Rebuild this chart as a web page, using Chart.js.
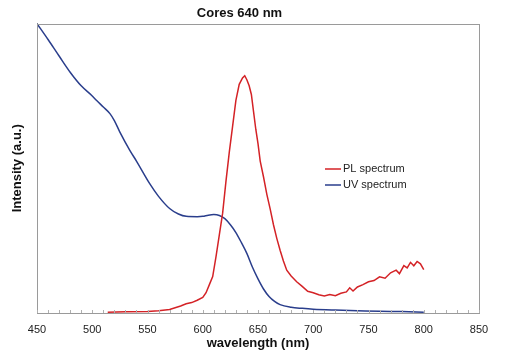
<!DOCTYPE html>
<html>
<head>
<meta charset="utf-8">
<script src="https://cdn.jsdelivr.net/npm/chart.js@4.4.1/dist/chart.umd.min.js"></script>
<style>
  html, body { margin: 0; padding: 0; background: #fff; }
  #wrap { width: 505px; height: 360px; }
</style>
</head>
<body>
<div id="wrap"><canvas id="grafico" width="505" height="360"></canvas></div>
<script>
// data (intensity in a.u., 0-100 scale)
var plWavelength = [514, 530, 550, 560, 570, 575, 580, 585, 590, 595, 600, 603, 606, 609, 612, 615, 618, 621, 624, 627, 630, 633, 636, 638, 640, 642, 644, 646, 648, 650, 652, 655, 658, 661, 664, 667, 670, 673, 676, 680, 685, 690, 695, 700, 705, 710, 715, 720, 725, 730, 733, 736, 740, 745, 750, 755, 760, 765, 770, 775, 778, 782, 785, 788, 791, 794, 797, 800];
var plIntensity = [0.3, 0.4, 0.5, 0.8, 1.2, 1.8, 2.4, 3.2, 3.6, 4.4, 5.4, 7.0, 9.8, 12.6, 19.5, 27.0, 34.5, 45.5, 55.5, 64.5, 73.5, 79.0, 81.2, 82.0, 80.5, 78.5, 75.5, 69.5, 63.5, 58.5, 52.5, 47.0, 41.0, 36.0, 30.5, 25.8, 21.7, 18.0, 14.8, 12.8, 10.8, 9.2, 7.5, 7.0, 6.3, 5.9, 6.4, 6.0, 6.8, 7.3, 8.7, 7.6, 9.0, 9.8, 10.8, 11.2, 12.5, 12.0, 13.9, 14.8, 13.6, 16.4, 15.6, 17.5, 16.3, 17.8, 17.0, 15.0];

var uvWavelength = [450, 460, 470, 480, 490, 500, 504, 510, 516, 520, 525, 534, 540, 552, 560, 570, 578, 585, 595, 600, 605, 610, 615, 620, 625, 630, 635, 640, 645, 650, 655, 660, 665, 670, 680, 690, 700, 720, 740, 760, 780, 800];
var uvIntensity = [100, 94.5, 88.8, 83.2, 78.5, 75.0, 73.4, 71.2, 68.9, 66.5, 62.5, 56.2, 52.5, 44.7, 40.3, 36.1, 34.2, 33.4, 33.3, 33.4, 33.8, 34.0, 33.7, 32.6, 30.5, 27.8, 24.3, 20.5, 15.8, 11.8, 8.3, 5.7, 4.0, 2.9, 2.0, 1.6, 1.3, 1.0, 0.8, 0.6, 0.5, 0.3];

var xTicks = [450, 500, 550, 600, 650, 700, 750, 800, 850];

function pontos(xs, ys) {
  return xs.map(function (x, i) { return { x: x, y: ys[i] }; });
}

// caixa em volta da area, tracinhos menores e legenda dentro do grafico
var extras = {
  id: 'extras',
  afterDraw: function (chart) {
    var ctx = chart.ctx;
    var a = chart.chartArea;
    var sx = chart.scales.x;
    ctx.save();
    ctx.strokeStyle = '#9a9a9a';
    ctx.lineWidth = 1;
    ctx.strokeRect(Math.round(a.left) + 0.5, Math.round(a.top) + 0.5, Math.round(a.right - a.left), Math.round(a.bottom - a.top));
    ctx.strokeStyle = '#b0b0b0';
    for (var w = xTicks[0]; w <= xTicks[xTicks.length - 1]; w += 10) {
      var px = Math.round(sx.getPixelForValue(w)) + 0.5;
      ctx.beginPath();
      ctx.moveTo(px, a.bottom);
      ctx.lineTo(px, a.bottom - 3);
      ctx.stroke();
    }
    // legenda
    ctx.font = '11px "Liberation Sans", Arial, sans-serif';
    ctx.textBaseline = 'middle';
    chart.data.datasets.forEach(function (ds, i) {
      var y = 169 + i * 16;
      ctx.strokeStyle = ds.borderColor;
      ctx.lineWidth = 1.5;
      ctx.beginPath();
      ctx.moveTo(325, y);
      ctx.lineTo(341, y);
      ctx.stroke();
      ctx.fillStyle = '#222';
      ctx.fillText(ds.label, 343, y);
    });
    ctx.restore();
  }
};

var ctx = document.getElementById('grafico').getContext('2d');
var grafico = new Chart(ctx, {
  type: 'line',
  data: {
    datasets: [{
      label: 'PL spectrum',
      data: pontos(plWavelength, plIntensity),
      borderColor: '#d42226',
      borderWidth: 1.5,
      pointRadius: 0,
      tension: 0
    }, {
      label: 'UV spectrum',
      data: pontos(uvWavelength, uvIntensity),
      borderColor: '#2a3e8c',
      borderWidth: 1.5,
      pointRadius: 0,
      cubicInterpolationMode: 'monotone'
    }]
  },
  options: {
    responsive: false,
    animation: false,
    layout: { padding: { left: 0, right: 26, top: 0, bottom: 0 } },
    plugins: {
      legend: { display: false },
      tooltip: { enabled: false },
      title: {
        display: true,
        text: 'Cores 640 nm',
        color: '#111',
        font: { family: '"Liberation Sans", Arial, sans-serif', size: 13, weight: 'bold' },
        padding: { top: 6, bottom: 2 }
      }
    },
    scales: {
      x: {
        type: 'linear',
        min: 450,
        max: 850,
        afterBuildTicks: function (scale) {
          scale.ticks = xTicks.map(function (v) { return { value: v }; });
        },
        afterFit: function (scale) { scale.height = 47; },
        grid: { display: true, drawOnChartArea: false, drawTicks: false },
        border: { color: '#9a9a9a' },
        ticks: {
          color: '#222',
          padding: 10,
          font: { family: '"Liberation Sans", Arial, sans-serif', size: 11 }
        },
        title: {
          display: true,
          text: 'wavelength (nm)',
          color: '#111',
          font: { family: '"Liberation Sans", Arial, sans-serif', size: 13, weight: 'bold' },
          padding: { top: 0, bottom: 9 }
        }
      },
      y: {
        min: 0,
        max: 100,
        afterFit: function (scale) { scale.width = 37; },
        grid: { display: false },
        border: { color: '#9a9a9a' },
        ticks: { display: false },
        title: {
          display: true,
          text: 'Intensity (a.u.)',
          color: '#111',
          font: { family: '"Liberation Sans", Arial, sans-serif', size: 13, weight: 'bold' },
          padding: { top: 10, bottom: 0 }
        }
      }
    }
  },
  plugins: [extras]
});
</script>
</body>
</html>
